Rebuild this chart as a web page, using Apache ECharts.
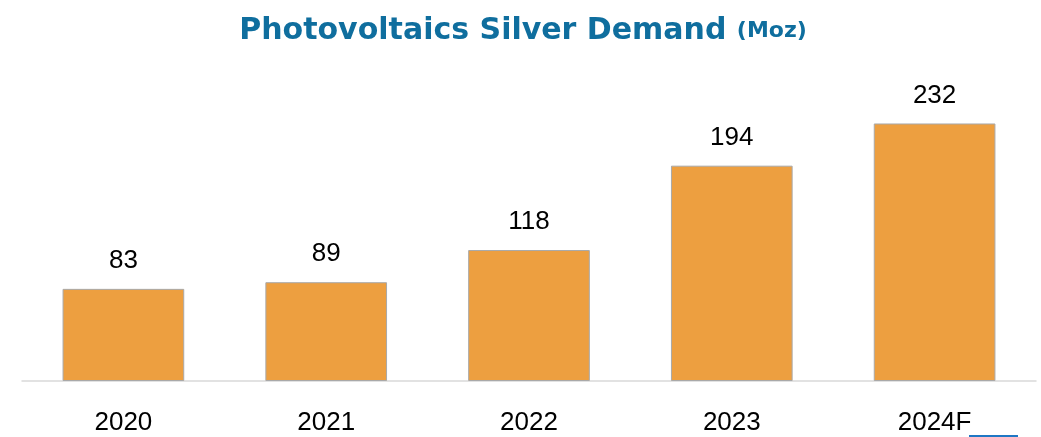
<!DOCTYPE html>
<html><head><meta charset="utf-8">
<script src="https://cdn.jsdelivr.net/npm/echarts@6/dist/echarts.min.js"></script>
<style>html,body{margin:0;padding:0;background:#fff}#c{width:1041px;height:437px}</style>
</head><body><div id="c"></div>
<script>
const categories = ['2020', '2021', '2022', '2023', '2024F'];
const demand = [83, 89, 118, 194, 232];
const titleMain = 'Photovoltaics Silver Demand ';
const titleUnit = '(Moz)';

const chart = echarts.init(document.getElementById('c'));
chart.setOption({
  backgroundColor: '#fff',
  animation: false,
  title: {
    text: '{a|' + titleMain + '}{b|' + titleUnit + '}',
    left: 518, top: 11, textAlign: 'center',
    textStyle: {
      rich: {
        a: {fontFamily: 'DejaVu Sans', fontWeight: 'bold', fontSize: 30, color: '#0f6e9e'},
        b: {fontFamily: 'DejaVu Sans', fontWeight: 'bold', fontSize: 22, color: '#0f6e9e'}
      }
    }
  },
  grid: {left: 22, right: 5, top: 103.5, bottom: 56},
  xAxis: {
    type: 'category', data: categories,
    axisLine: {lineStyle: {color: '#d9d9d9', width: 1.5}},
    axisTick: {show: false},
    axisLabel: {fontFamily: 'Liberation Sans', fontSize: 26, color: '#000', margin: 29}
  },
  yAxis: {type: 'value', min: 0, max: 250, show: false, splitLine: {show: false}},
  series: [{
    type: 'bar', data: demand, barWidth: '60%',
    itemStyle: {color: '#ED9F40', borderColor: '#a9a9a9', borderWidth: 1},
    label: {show: true, position: 'top', distance: 15, fontFamily: 'Liberation Sans', fontSize: 26, color: '#000'}
  }],
  graphic: [{
    type: 'line', shape: {x1: 969, y1: 436, x2: 1018, y2: 436},
    style: {stroke: '#1f77c4', lineWidth: 2}
  }]
});
</script></body></html>
